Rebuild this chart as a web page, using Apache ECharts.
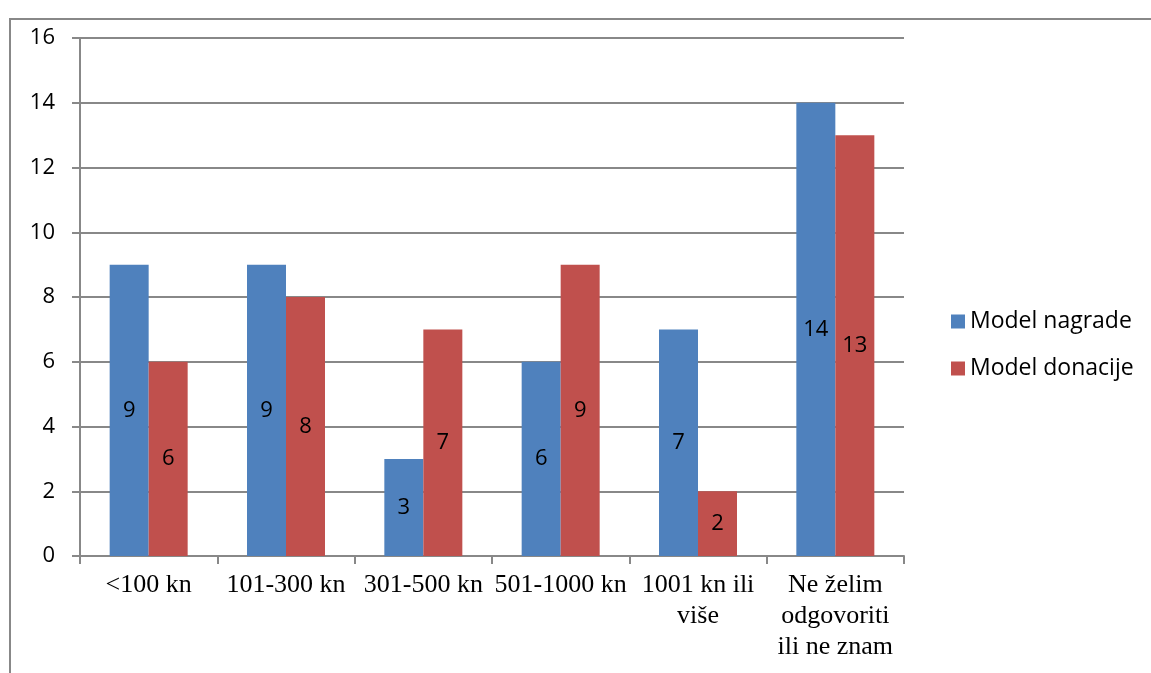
<!DOCTYPE html>
<html>
<head>
<meta charset="utf-8">
<script src="https://cdn.jsdelivr.net/npm/echarts@6/dist/echarts.min.js"></script>
<style>
html,body{margin:0;padding:0;background:#fff;}
#c{width:1151px;height:673px;}
</style>
</head>
<body>
<div id="c"></div>
<script>
var categories = ['<100 kn', '101-300 kn', '301-500 kn', '501-1000 kn', '1001 kn ili\nviše', 'Ne želim\nodgovoriti\nili ne znam'];
var seriesNames = ['Model nagrade', 'Model donacije'];
var modelNagrade = [9, 9, 3, 6, 7, 14];
var modelDonacije = [6, 8, 7, 9, 2, 13];
var yTicks = {min: 0, max: 16, interval: 2};

var gridColor = '#888888';
var chart = echarts.init(document.getElementById('c'), null, {renderer: 'canvas'});
var labelStyle = {
  show: true, position: 'inside', color: '#000',
  fontFamily: 'Open Sans', fontSize: 22
};
chart.setOption({
  animation: false,
  backgroundColor: '#fff',
  graphic: [{
    type: 'rect', silent: true,
    shape: {x: 10, y: 19, width: 1300, height: 800},
    style: {fill: 'none', stroke: gridColor, lineWidth: 2}
  }],
  grid: {left: 80, right: 247, top: 38, bottom: 117, containLabel: false},
  legend: {
    orient: 'vertical', left: 946, top: 305,
    itemWidth: 14, itemHeight: 14, itemGap: 24,
    icon: 'rect',
    textStyle: {fontFamily: 'Open Sans', fontSize: 23, color: '#000', padding: [0, 0, 0, 0]},
    data: seriesNames
  },
  xAxis: {
    type: 'category', data: categories,
    axisLine: {lineStyle: {color: gridColor, width: 2}},
    axisTick: {show: true, length: 8, interval: 0, lineStyle: {color: gridColor, width: 2}},
    axisLabel: {
      interval: 0, color: '#000', fontFamily: 'Liberation Serif', fontSize: 26,
      lineHeight: 31, margin: 14
    },
    splitLine: {show: false}
  },
  yAxis: {
    type: 'value', min: yTicks.min, max: yTicks.max, interval: yTicks.interval,
    axisLine: {show: true, lineStyle: {color: gridColor, width: 2}},
    axisTick: {show: true, length: 8, lineStyle: {color: gridColor, width: 2}},
    axisLabel: {color: '#000', fontFamily: 'Open Sans', fontSize: 22, margin: 25},
    splitLine: {show: true, lineStyle: {color: gridColor, width: 2}}
  },
  series: [{
    name: seriesNames[0], type: 'bar', data: modelNagrade,
    barWidth: 39, barGap: '0%',
    itemStyle: {color: '#4F81BD'}, label: labelStyle
  }, {
    name: seriesNames[1], type: 'bar', data: modelDonacije,
    barWidth: 39, barGap: '0%',
    itemStyle: {color: '#C0504D'}, label: labelStyle
  }]
});
</script>
</body>
</html>
